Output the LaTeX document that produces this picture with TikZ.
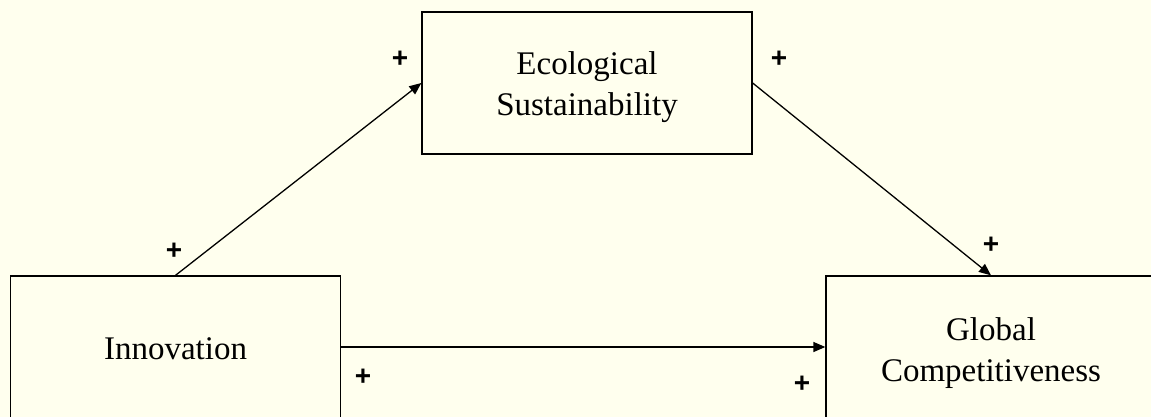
\documentclass[tikz,border=0pt]{standalone}
\usepackage{fontspec}
\setmainfont{Liberation Serif}
\newfontfamily\plusfont{Liberation Sans}
\usetikzlibrary{arrows.meta}
\definecolor{bg}{HTML}{FFFFEE}
\begin{document}
\begin{tikzpicture}[x=1pt,y=-1pt,
  box/.style={draw=black,line width=1.3pt,fill=bg,rectangle,minimum width=330pt,minimum height=142pt,inner sep=0pt},
  boxtext/.style={align=center,inner sep=0pt,font=\fontsize{33}{40.5}\selectfont},
  arr/.style={line width=1.3pt,-{Triangle[length=12pt,width=10pt]}},
  pl/.style={font=\plusfont\bfseries\fontsize{28}{28}\selectfont,inner sep=0pt}]
\clip (0,0) rectangle (1151,417);
\fill[bg] (0,0) rectangle (1151,417);
\useasboundingbox (0,0) rectangle (1151,417);
\node[box,label={[boxtext,yshift=-4pt]center:Ecological\\Sustainability}] (eco) at (587,83) {};
\node[box,label={[boxtext,yshift=-2pt]center:Innovation}] (inn) at (175.5,347) {};
\node[box,label={[boxtext,yshift=-6pt]center:Global\\Competitiveness}] (glob) at (991,347) {};
\draw[arr] (inn.north) -- (eco.west);
\draw[arr] (eco.east) -- (glob.north);
\draw[arr] (inn.east) -- (glob.west);
\node[pl] (p1) at (400,59) {+};
\node[pl] (p2) at (779,59) {+};
\node[pl] (p3) at (174,251) {+};
\node[pl] (p4) at (991,245) {+};
\node[pl] (p5) at (363,377) {+};
\node[pl] (p6) at (802,384) {+};
\end{tikzpicture}
\end{document}
